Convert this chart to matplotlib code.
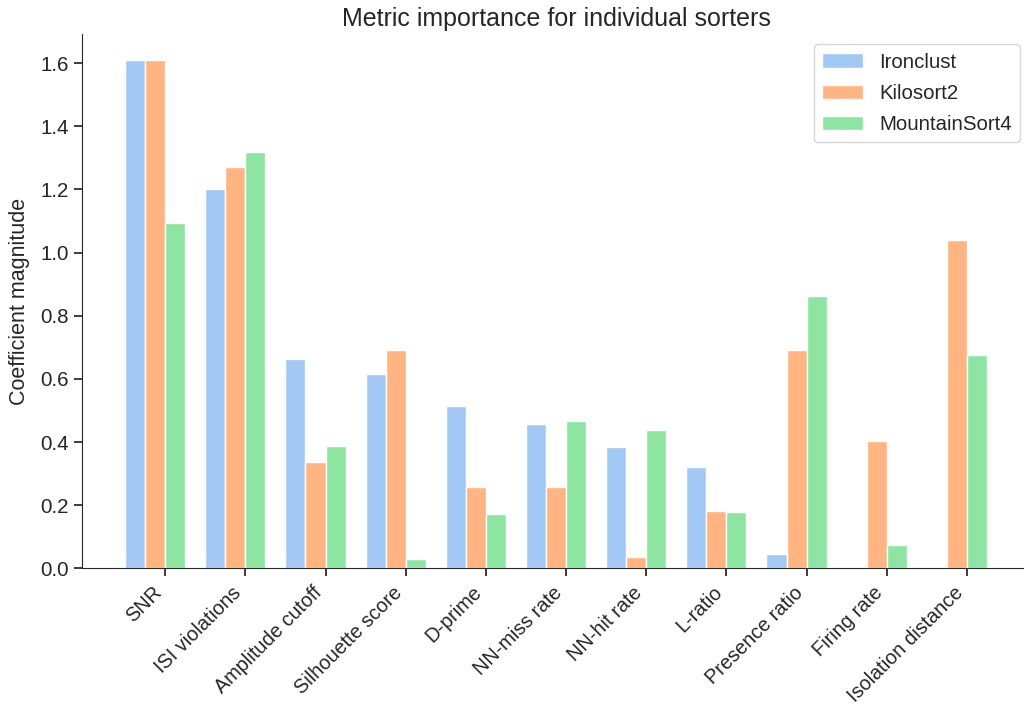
import numpy as np
import matplotlib
matplotlib.use("Agg")
import matplotlib.pyplot as plt
import seaborn as sns

metrics = ["SNR", "ISI violations", "Amplitude cutoff", "Silhouette score",
           "D-prime", "NN-miss rate", "NN-hit rate", "L-ratio",
           "Presence ratio", "Firing rate", "Isolation distance"]
sorters = ["Ironclust", "Kilosort2", "MountainSort4"]

ironclust = [1.611, 1.201, 0.663, 0.616, 0.513, 0.458, 0.383, 0.322, 0.044, 0.0, 0.0]
kilosort2 = [1.611, 1.271, 0.336, 0.691, 0.256, 0.257, 0.037, 0.182, 0.691, 0.404, 1.041]
mountainsort4 = [1.095, 1.318, 0.387, 0.029, 0.173, 0.466, 0.439, 0.177, 0.864, 0.075, 0.677]

sns.set_style("ticks")
plt.rcParams["font.family"] = ["Liberation Sans", "DejaVu Sans"]
plt.rcParams["text.color"] = "#262626"
plt.rcParams["axes.labelcolor"] = "#262626"
plt.rcParams["xtick.color"] = "#262626"
plt.rcParams["ytick.color"] = "#262626"

colors = sns.color_palette("pastel")[:3]

fig = plt.figure(figsize=(10.24, 7.07), dpi=100)
ax = fig.add_axes([0.0801, 0.1962, 0.9258, 0.7553])

x = np.arange(len(metrics))
w = 0.25
for k, (vals, name) in enumerate(zip([ironclust, kilosort2, mountainsort4], sorters)):
    ax.bar(x - 0.5 + k * w, vals, width=w, align="edge", color=colors[k],
           edgecolor="white", linewidth=1.0, label=name)

ax.set_xticks(x)
ax.set_xticklabels(metrics, rotation=45, ha="right", fontsize=14.3)
ax.tick_params(axis="y", labelsize=14.8)
ax.tick_params(length=6, width=1.25)
ax.tick_params(axis="x", pad=4.5)
ax.set_ylabel("Coefficient magnitude", fontsize=15.5, labelpad=7)
ax.set_title("Metric importance for individual sorters", fontsize=18)
ax.legend(loc="upper right", fontsize=14.7, labelspacing=0.6)
sns.despine(ax=ax)

fig.savefig("out.png", dpi=100)
